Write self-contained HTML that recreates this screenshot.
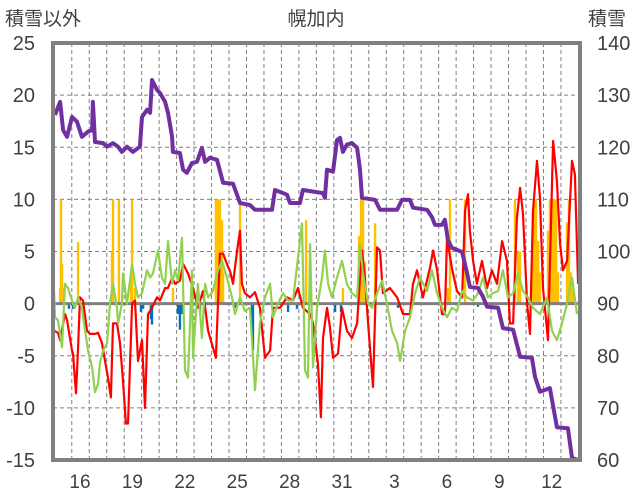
<!DOCTYPE html>
<html><head><meta charset="utf-8"><style>
body{margin:0;background:#fff;}
svg{display:block;font-family:"Liberation Sans","Noto Sans CJK JP",sans-serif;}
</style></head><body>
<svg id="chart" width="636" height="501">
<g id="grid"></g>
<g id="bars"></g>
<g id="lines"></g>
<g id="axes"></g>
<text x="5" y="25" font-size="19" fill="#404040">積雪以外</text>
<text x="316" y="25" font-size="19" fill="#404040" text-anchor="middle">幌加内</text>
<text x="588" y="25" font-size="19" fill="#404040">積雪</text>
</svg>
<script>
const xLabels=["16","19","22","25","28","31","3","6","9","12"];
const xLabelDays=[0,3,6,9,12,15,18,21,24,27];
const leftTicks=[-15,-10,-5,0,5,10,15,20,25];
const rightTicks=[60,70,80,90,100,110,120,130,140];
const purpleDays=[-1.43,-1.14,-0.97,-0.74,-0.46,-0.17,0.11,0.46,0.69,0.74,0.86,1.32,1.55,1.89,2.18,2.40,2.69,3.03,3.43,3.55,3.84,4.01,4.12,4.41,4.58,4.87,5.04,5.27,5.32,5.72,5.90,6.12,6.41,6.70,6.98,7.16,7.44,7.84,8.19,8.76,9.16,9.73,10.02,10.99,11.16,11.85,12.02,12.59,12.76,13.91,14.02,14.14,14.48,14.71,14.88,15.05,15.28,15.57,15.86,16.03,16.14,16.89,17.17,18.15,18.43,18.89,19.06,19.86,20.15,20.32,20.72,20.89,21.06,21.29,21.87,22.15,22.32,22.78,23.07,23.30,23.93,24.21,24.79,25.19,25.87,26.05,26.33,26.90,27.30,27.93,28.16,28.51];
const purpleVals=[126.2,128.7,123.3,122.0,125.8,124.9,122.0,123.0,123.3,128.7,121.0,120.8,120.1,120.8,120.1,119.1,120.1,119.1,120.1,125.8,127.2,126.6,132.9,131.0,130.4,128.7,126.6,122.0,119.1,118.9,115.7,115.1,117.0,117.2,119.9,117.2,118.0,117.6,113.2,113.0,109.3,108.9,108.0,108.0,111.8,110.9,109.3,109.3,111.8,111.2,110.3,115.7,115.3,121.4,121.8,119.1,120.5,120.8,119.9,115.7,110.3,109.9,108.0,108.0,109.9,109.9,108.4,108.0,106.6,105.1,105.1,106.1,102.2,100.7,99.9,95.9,93.2,93.0,91.3,89.4,89.2,85.3,85.0,79.8,79.6,75.9,73.1,73.8,66.3,66.1,60.4,60.0];
const redDays=[-1.49,-1.26,-1.14,-0.86,-0.74,-0.46,-0.40,-0.23,-0.11,0,0.17,0.40,0.57,0.86,1.03,1.26,1.43,1.60,1.77,1.89,2.12,2.29,2.46,2.63,2.75,2.98,3.15,3.32,3.55,3.72,3.89,4.12,4.41,4.58,4.87,5.04,5.27,5.44,5.72,5.90,6.18,6.47,6.75,7.04,7.33,7.61,7.78,8.01,8.19,8.41,8.59,8.76,8.99,9.16,9.27,9.44,9.73,10.02,10.30,10.59,10.88,11.05,11.45,11.85,12.19,12.48,12.76,13.17,13.34,13.62,13.79,13.91,14.14,14.31,14.48,14.77,15.00,15.28,15.57,15.86,16.03,16.14,16.31,16.49,16.77,17.00,17.17,17.34,17.74,18.15,18.49,18.89,19.06,19.29,19.46,19.63,20.03,20.21,20.44,20.72,20.89,21.01,21.29,21.58,21.87,22.04,22.21,22.32,22.50,22.72,23.01,23.30,23.58,23.87,24.16,24.44,24.61,24.79,25.01,25.19,25.36,25.59,25.76,25.93,26.16,26.33,26.50,26.79,27.08,27.30,27.48,27.65,27.88,28.16,28.33,28.51];
const redVals=[-2.6,-2.8,-3.5,-1.0,-1.6,-4.5,-4.8,-8.6,-4.2,0.6,0.3,-2.6,-2.9,-2.9,-2.8,-3.8,-5.5,-7.1,-9.0,-1.9,-1.9,-3.8,-7.4,-11.5,-11.5,0,0.3,-5.5,-3.5,-10.0,-1.0,-0.4,0.6,0.3,1.5,1.5,2.5,1.9,2.2,3.8,2.9,1.5,-0.4,1.2,-2.6,-4.2,-5.2,4.8,4.8,3.8,3.1,1.9,5.1,7.0,1.9,1.0,0.6,1.1,-0.4,-5.2,-4.5,-0.4,-0.4,0.6,0.3,1.5,-0.4,-1.0,-1.9,-5.7,-10.9,-3.3,-0.4,-2.3,-5.2,-4.8,-0.4,-2.6,-3.3,-1.9,2.5,5.1,2.5,-1.9,-8.0,5.4,5.1,1.0,1.5,0.6,-1.0,-1.0,1.9,3.2,1.9,0.6,3.4,5.1,3.2,-1.0,-1.0,6.3,3.4,1.2,0.6,8.9,10.5,7.0,4.1,1.9,4.1,1.5,3.2,1.9,6.0,4.1,-1.9,-1.9,8.2,11.1,8.6,0,-2.9,8.9,13.7,10.1,1.5,-3.5,15.6,11.8,5.7,3.2,4.1,13.7,12.4,1.9];
const greenDays=[-1.49,-1.43,-1.26,-1.03,-0.86,-0.69,-0.46,-0.29,-0.11,0.11,0.29,0.46,0.69,0.86,1.03,1.14,1.32,1.55,1.72,1.89,2.12,2.18,2.40,2.46,2.69,2.98,3.15,3.32,3.55,3.84,4.01,4.18,4.46,4.69,4.87,5.04,5.27,5.44,5.61,5.84,6.01,6.18,6.41,6.47,6.75,6.98,7.16,7.33,7.61,7.90,8.13,8.41,8.70,8.87,9.16,9.44,9.73,10.02,10.30,10.59,10.88,11.05,11.33,11.62,11.91,12.19,12.71,12.88,13.05,13.17,13.34,13.57,13.85,14.02,14.20,14.42,14.71,15.00,15.28,15.57,15.86,16.03,16.20,16.49,16.72,17.00,17.29,17.57,17.86,18.15,18.32,18.61,18.89,19.18,19.46,19.86,20.15,20.44,20.72,21.01,21.29,21.58,21.87,22.15,22.50,22.78,23.07,23.35,23.64,23.93,24.21,24.50,24.79,25.07,25.36,25.64,25.93,26.33,26.73,27.02,27.30,27.59,27.88,28.16,28.45];
const greenVals=[1.2,-1.3,-1.6,-4.2,1.9,1.5,0.3,-0.4,0.6,-0.4,-2.6,-4.5,-6.1,-8.5,-7.7,-5.7,-4.5,-3.8,0,1.9,-0.4,-1.9,0,2.9,0,3.8,1.9,0.6,1.0,3.2,2.5,2.9,5.1,2.5,1.9,6.0,1.9,3.2,2.2,6.3,-6.4,-7.1,3.2,-5.2,1.9,-3.3,1.9,0.6,1.2,3.2,4.1,2.5,0.6,-1.0,0.6,-0.7,-0.4,-8.3,-1.9,0.6,1.9,-1.3,0,1.0,0.3,0.3,7.7,-6.4,-7.1,5.7,-6.1,-0.4,2.5,5.1,1.9,0.6,2.5,4.1,1.9,1.0,0.6,5.7,2.9,0,-0.4,1.0,2.2,0,-2.6,-3.8,-5.5,-2.6,-1.3,1.0,2.5,1.2,3.2,1.0,-0.4,-1.3,-0.4,-0.7,1.2,0.6,0.3,1.0,2.5,0.6,1.0,1.2,3.2,0.6,1.0,2.9,1.2,0.6,-0.4,-1.0,0.6,-2.6,-3.5,-1.9,0,2.5,-1.0];
const orangeDays=[-1.14,-1.09,-1.03,-0.97,-0.11,1.83,1.89,2.23,2.92,2.98,3.15,5.32,7.78,7.90,8.01,8.13,8.19,9.16,12.94,13.17,15.05,15.97,16.09,16.20,16.31,16.89,21.06,21.18,22.04,24.90,25.07,25.19,25.87,25.99,26.10,26.22,26.33,26.79,26.90,27.02,27.13,27.25,27.36,27.88,27.99,28.10,28.22];
const orangeVals=[1.5,10,3.8,1.5,5.9,5,10,10,2.3,10,1.5,1.5,10,10,10,8,3,10,8,3.9,1.5,6.5,10,10,4,7.7,1.5,10,10,10,5,5,4,10,10,6,3,7,10,10,10,10,3,7.8,10,3,2];
const blueDays=[-0.63,-0.40,3.49,3.61,4.06,4.12,5.61,5.72,5.84,6.87,8.87,9.85,9.90,11.91,12.42,14.60,14.94,18.20,22.78];
const blueVals=[-0.5,-0.5,-0.8,-0.5,-1.5,-2,-1,-2.5,-1,-0.8,-0.4,-3,-4.5,-0.8,-0.5,-0.8,-0.8,-0.4,-0.3];

const NS='http://www.w3.org/2000/svg';
const L=53,R=580,T=43,B=460;
const x=d=>80+d*17.47;
const yL=v=>T+(25-v)/40*(B-T);
const yR=v=>T+(140-v)/80*(B-T);
function mk(tag,attrs,parent){const e=document.createElementNS(NS,tag);for(const k in attrs)e.setAttribute(k,attrs[k]);document.getElementById(parent).appendChild(e);return e;}
for(let d=-1;d<=29;d++){
  const gx=x(d-0.47);
  if(gx<=L+2||gx>=R-2)continue;
  const g=mk('line',{x1:gx,x2:gx,y1:T,y2:B,stroke:'#808080','stroke-width':1,'stroke-dasharray':'4,3'},'grid');
  
  
}
leftTicks.forEach(v=>{
  const g=mk('line',{x1:L,x2:R,y1:yL(v),y2:yL(v),stroke:'#808080','stroke-width':1,'stroke-dasharray':'4,3'},'grid');
  
  
  const t=mk('text',{x:35,y:yL(v)+7,'font-size':20,fill:'#404040','text-anchor':'end'},'axes');
  t.textContent=v;
  
  
});
rightTicks.forEach(v=>{
  const t=mk('text',{x:597,y:yR(v)+7,'font-size':20,fill:'#404040'},'axes');
  t.textContent=v;
  
  
});
xLabels.forEach((s,i)=>{
  const t=mk('text',{x:x(xLabelDays[i]),y:488,'font-size':19,fill:'#404040','text-anchor':'middle'},'axes');
  t.textContent=s;
  
  
});
const bw=2.4;
orangeDays.forEach((d,i)=>{
  const v=orangeVals[i];
  const r=mk('rect',{x:x(d)-bw/2,y:yL(v),width:bw,height:yL(0)-yL(v),fill:'#ffc000'},'bars');
  
  
});
blueDays.forEach((d,i)=>{
  const v=blueVals[i];
  const r=mk('rect',{x:x(d)-bw/2,y:yL(0),width:bw,height:yL(v)-yL(0),fill:'#0070c0'},'bars');
  
  
});
const z=mk('line',{x1:L,x2:R,y1:yL(0),y2:yL(0),stroke:'#808080','stroke-width':3},'bars');


function pts(ds,vs,f){return ds.map((d,i)=>x(d).toFixed(1)+','+f(vs[i]).toFixed(1)).join(' ');}
const red=mk('polyline',{points:pts(redDays,redVals,yL),fill:'none',stroke:'#ff0000','stroke-width':2.2,'stroke-linejoin':'round'},'lines');


const green=mk('polyline',{points:pts(greenDays,greenVals,yL),fill:'none',stroke:'#92d050','stroke-width':2.2,'stroke-linejoin':'round'},'lines');


const purple=mk('polyline',{points:pts(purpleDays,purpleVals,yR),fill:'none',stroke:'#7030a0','stroke-width':4,'stroke-linejoin':'round'},'lines');


const fr=mk('rect',{x:L,y:T,width:R-L,height:B-T,fill:'none',stroke:'#808080','stroke-width':4},'axes');


</script>
</body></html>
